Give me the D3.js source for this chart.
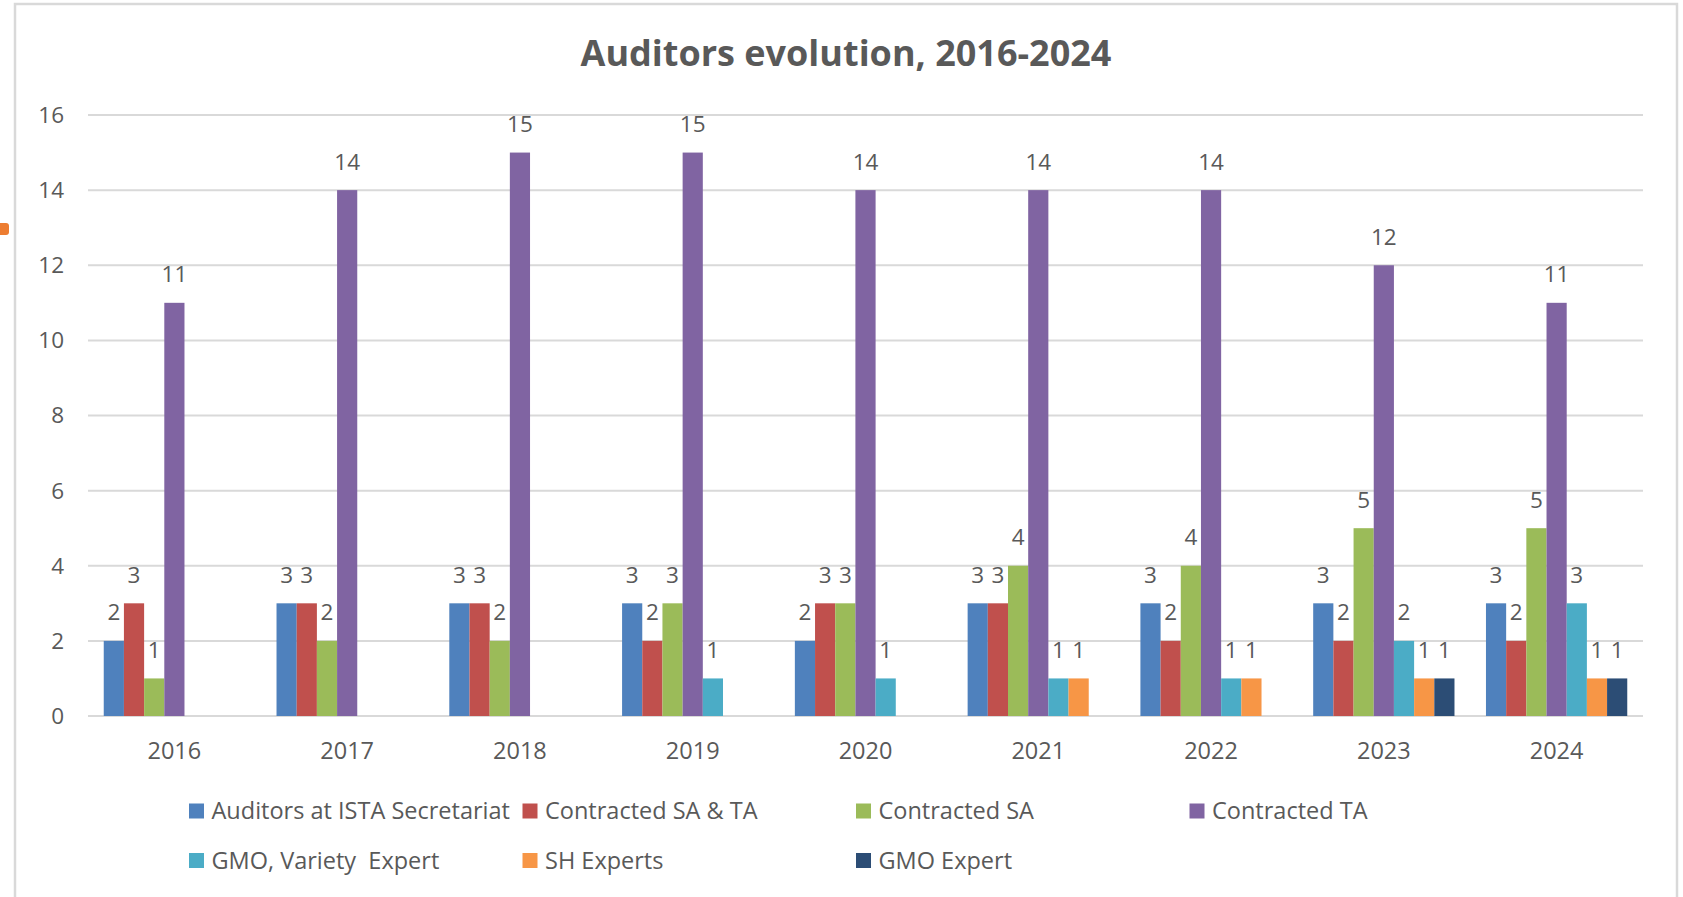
<!DOCTYPE html>
<html>
<head>
<meta charset="utf-8">
<script src="https://cdn.jsdelivr.net/npm/d3@7"></script>
<style>
  body { margin: 0; background: #fff; }
  svg { display: block; }
  text { font-family: "Open Sans", Lato, sans-serif; fill: #595959; }
</style>
</head>
<body>
<div id="chart"></div>
<script>
// data
var years = ["2016", "2017", "2018", "2019", "2020", "2021", "2022", "2023", "2024"];
var seriesNames = ["Auditors at ISTA Secretariat", "Contracted SA & TA", "Contracted SA",
                   "Contracted TA", "GMO, Variety  Expert", "SH Experts", "GMO Expert"];
var seriesColors = ["#4F81BD", "#C0504D", "#9BBB59", "#8064A2", "#4BACC6", "#F79646", "#2C4D75"];
var auditorsSecretariat = [2, 3, 3, 3, 2, 3, 3, 3, 3];
var contractedSaTa      = [3, 3, 3, 2, 3, 3, 2, 2, 2];
var contractedSa        = [1, 2, 2, 3, 3, 4, 4, 5, 5];
var contractedTa        = [11, 14, 15, 15, 14, 14, 14, 12, 11];
var gmoVarietyExpert    = [null, null, null, 1, 1, 1, 1, 2, 3];
var shExperts           = [null, null, null, null, null, 1, 1, 1, 1];
var gmoExpert           = [null, null, null, null, null, null, null, 1, 1];
var yTicks = [0, 2, 4, 6, 8, 10, 12, 14, 16];
var title = "Auditors evolution, 2016-2024";

var values = [auditorsSecretariat, contractedSaTa, contractedSa, contractedTa,
              gmoVarietyExpert, shExperts, gmoExpert];

(function() {
  var W = 1683, H = 897;
  var pLeft = 88, pRight = 1643, pTop = 115, pBottom = 716;

  var svg = d3.select("#chart").append("svg")
      .attr("width", W)
      .attr("height", H);

  // chart frame
  svg.append("rect")
      .attr("x", 15).attr("y", 4)
      .attr("width", 1662).attr("height", 910)
      .style("fill", "#fff")
      .style("stroke", "#d9d9d9")
      .style("stroke-width", 2.5);

  // small orange marker on the left edge
  svg.append("rect")
      .attr("x", -4).attr("y", 223)
      .attr("width", 13).attr("height", 12)
      .attr("rx", 3)
      .style("fill", "#ED7D31");

  var x0 = d3.scaleBand()
      .domain(years)
      .range([pLeft, pRight]);

  var x1 = d3.scaleBand()
      .domain(d3.range(seriesNames.length))
      .range([0, x0.bandwidth()])
      .paddingOuter(0.78);

  var y = d3.scaleLinear()
      .domain([0, 16])
      .range([pBottom, pTop]);

  /* gridlines */
  svg.selectAll(".grid")
      .data(yTicks)
      .enter().append("line")
      .attr("class", "grid")
      .attr("x1", pLeft)
      .attr("x2", pRight)
      .attr("y1", y)
      .attr("y2", y)
      .style("stroke", "#d9d9d9")
      .style("stroke-width", 2);

  /* y tick labels */
  svg.selectAll(".ylabel")
      .data(yTicks)
      .enter().append("text")
      .attr("class", "ylabel")
      .attr("x", 64)
      .attr("y", y)
      .attr("dy", "0.35em")
      .attr("text-anchor", "end")
      .style("font-size", "22.5px")
      .text(function(d) { return d; });

  /* x labels */
  svg.selectAll(".xlabel")
      .data(years)
      .enter().append("text")
      .attr("class", "xlabel")
      .attr("x", function(d) { return x0(d) + x0.bandwidth() / 2; })
      .attr("y", 759)
      .attr("text-anchor", "middle")
      .style("font-size", "23.5px")
      .text(function(d) { return d; });

  // one row per bar
  var bars = [];
  years.forEach(function(yr, i) {
    values.forEach(function(vals, s) {
      if (vals[i] != null) bars.push({year: yr, s: s, v: vals[i]});
    });
  });

  svg.selectAll(".bar")
      .data(bars)
      .enter().append("rect")
      .attr("class", "bar")
      .attr("x", function(d) { return x0(d.year) + x1(d.s); })
      .attr("y", function(d) { return y(d.v); })
      .attr("width", x1.bandwidth())
      .attr("height", function(d) { return pBottom - y(d.v); })
      .style("fill", function(d) { return seriesColors[d.s]; });

  svg.selectAll(".vlabel")
      .data(bars)
      .enter().append("text")
      .attr("class", "vlabel")
      .attr("x", function(d) { return x0(d.year) + x1(d.s) + x1.bandwidth() / 2; })
      .attr("y", function(d) { return y(d.v) - 20.5; })
      .attr("text-anchor", "middle")
      .style("font-size", "22.5px")
      .text(function(d) { return d.v; });

  /* title */
  svg.append("text")
      .attr("x", 846)
      .attr("y", 66)
      .attr("text-anchor", "middle")
      .style("font-size", "36px")
      .style("font-weight", "bold")
      .text(title);

  /* legend, 4 columns */
  var legend = svg.selectAll(".legend")
      .data(seriesNames)
      .enter().append("g")
      .attr("class", "legend")
      .attr("transform", function(d, i) {
        return "translate(" + (189 + (i % 4) * 333.5) + "," + (i < 4 ? 811 : 860.5) + ")";
      });

  legend.append("rect")
      .attr("x", 0)
      .attr("y", -7.5)
      .attr("width", 15)
      .attr("height", 15)
      .style("fill", function(d, i) { return seriesColors[i]; });

  legend.append("text")
      .attr("x", 22.5)
      .attr("y", 0)
      .attr("dy", "0.35em")
      .style("font-size", "23.5px")
      .style("white-space", "pre")
      .text(function(d) { return d; });
})();
</script>
</body>
</html>
